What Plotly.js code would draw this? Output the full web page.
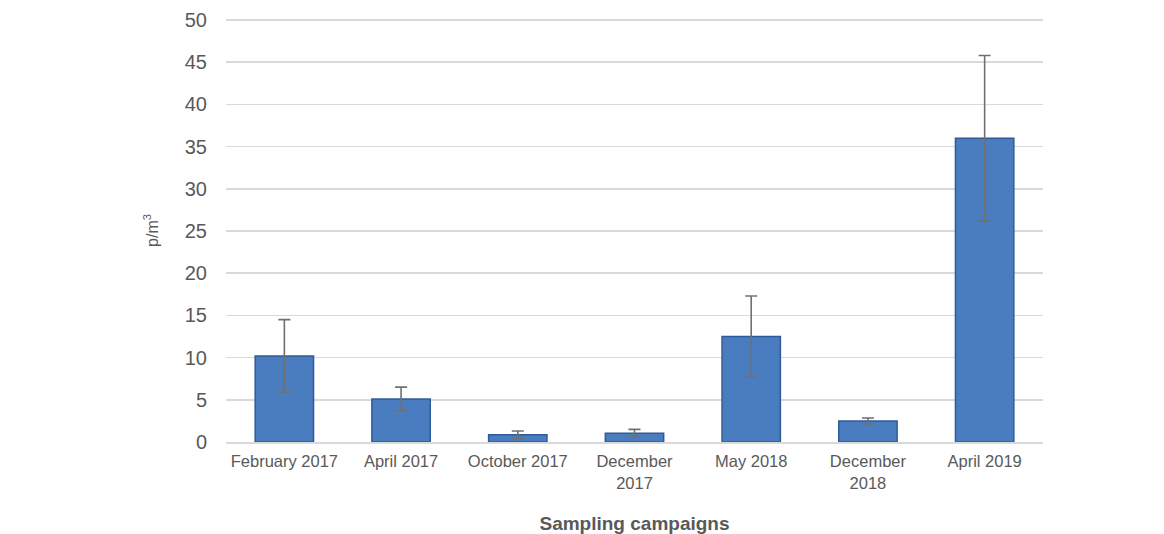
<!DOCTYPE html>
<html>
<head>
<meta charset="utf-8">
<script src="https://cdn.plot.ly/plotly-3.0.1.min.js"></script>
<style>html,body{margin:0;padding:0;background:#fff;}#chart{width:1164px;height:534px;}</style>
</head>
<body>
<div id="chart"></div>
<script>
const categories = ["February 2017", "April 2017", "October 2017", "December<br>2017", "May 2018", "December<br>2018", "April 2019"];
const values = [10.2, 5.1, 0.85, 1.05, 12.5, 2.5, 36.0];
const errors = [4.3, 1.4, 0.45, 0.45, 4.8, 0.35, 9.8];
const yTicks = [0, 5, 10, 15, 20, 25, 30, 35, 40, 45, 50];

const trace = {
  type: "bar",
  x: categories,
  y: values,
  width: 0.5,
  marker: {
    color: "#4a7cc0",
    line: { color: "#2f5c96", width: 1.5 }
  },
  error_y: {
    type: "data",
    array: errors,
    visible: true,
    color: "#707070",
    thickness: 1.6,
    width: 6
  },
  hoverinfo: "none"
};

const layout = {
  width: 1164,
  height: 534,
  margin: { l: 226, r: 121, t: 19, b: 92 },
  paper_bgcolor: "#ffffff",
  plot_bgcolor: "#ffffff",
  font: { family: "Liberation Sans, Arial, sans-serif", color: "#595959" },
  showlegend: false,
  bargap: 0.5,
  xaxis: {
    type: "category",
    tickfont: { size: 16.5, color: "#595959" },
    showgrid: false,
    showline: true,
    linecolor: "#d9d9d9",
    linewidth: 1.5,
    ticks: "outside",
    ticklen: 4,
    tickcolor: "rgba(0,0,0,0)",
    title: {
      text: "<b>Sampling campaigns</b>",
      font: { size: 19, color: "#595959" },
      standoff: 28
    }
  },
  yaxis: {
    range: [0, 50.12],
    tickvals: yTicks,
    ticktext: yTicks.map(String),
    tickfont: { size: 20, color: "#595959" },
    showgrid: true,
    gridcolor: "#d9d9d9",
    gridwidth: 1.5,
    zeroline: false,
    showline: false,
    ticks: "outside",
    ticklen: 14,
    tickcolor: "rgba(0,0,0,0)",
    title: {
      text: "p/m<sup>3</sup>",
      font: { size: 16, color: "#595959" },
      standoff: 22
    }
  }
};

Plotly.newPlot("chart", [trace], layout, { displayModeBar: false, staticPlot: true });
</script>
</body>
</html>
